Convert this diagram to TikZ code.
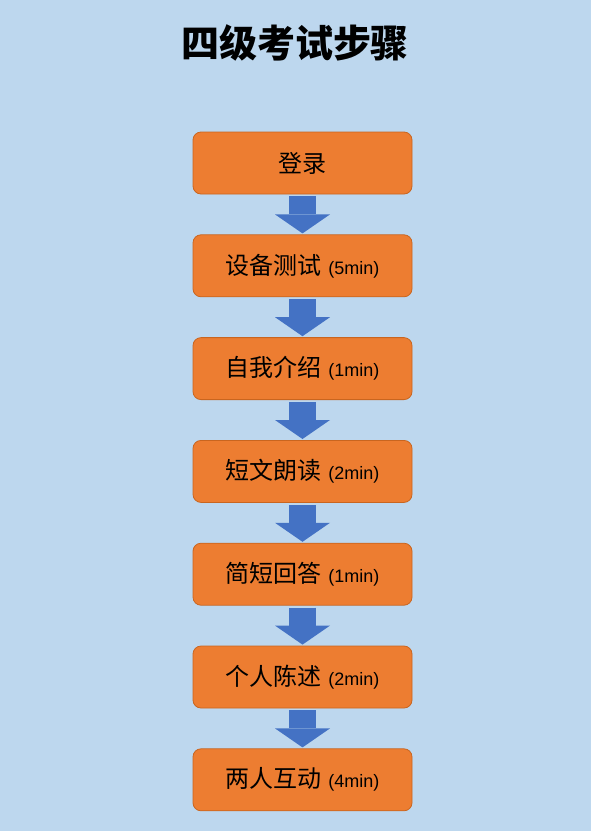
\documentclass[tikz,border=0pt]{standalone}
\usepackage{fontspec}
\setmainfont{Liberation Sans}
\newfontfamily\cjk{Noto Sans CJK SC}
\usetikzlibrary{positioning,arrows.meta}
\definecolor{bgblue}{HTML}{BDD7EE}
\definecolor{boxorange}{HTML}{ED7D31}
\definecolor{boxedge}{HTML}{C9651F}
\definecolor{arrowblue}{HTML}{4472C4}
\newcommand{\dur}[1]{{\fontsize{18}{21}\selectfont(#1min)}}
\begin{document}
\begin{tikzpicture}[x=1pt, y=-1pt, node distance=40pt,
    box/.style={draw=boxedge, line width=0.8pt, fill=boxorange, rounded corners=8pt,
        minimum width=219pt, minimum height=62pt, inner sep=0pt,
        font=\fontsize{24}{28}\selectfont},
    flow/.style={draw=arrowblue, line width=27pt, shorten <=2pt, shorten >=1pt,
        -{Triangle[width=55pt, length=19pt, line width=0pt]}}]
    \fill[bgblue] (0,0) rectangle (591,831);
    \useasboundingbox (0,0) rectangle (591,831);
    \node[font=\cjk\bfseries\fontsize{38}{44}\selectfont] (title) at (295,43) {四级考试步骤};
    \node[box] (login) at (302.5,163) {\cjk 登录};
    \node[box, below=of login] (device) {{\cjk 设备测试} \dur{5}};
    \node[box, below=of device] (intro) {{\cjk 自我介绍} \dur{1}};
    \node[box, below=of intro] (reading) {{\cjk 短文朗读} \dur{2}};
    \node[box, below=of reading] (answer) {{\cjk 简短回答} \dur{1}};
    \node[box, below=of answer] (speech) {{\cjk 个人陈述} \dur{2}};
    \node[box, below=of speech] (talk) {{\cjk 两人互动} \dur{4}};
    \draw[flow] (login) -- (device);
    \draw[flow] (device) -- (intro);
    \draw[flow] (intro) -- (reading);
    \draw[flow] (reading) -- (answer);
    \draw[flow] (answer) -- (speech);
    \draw[flow] (speech) -- (talk);
\end{tikzpicture}
\end{document}
